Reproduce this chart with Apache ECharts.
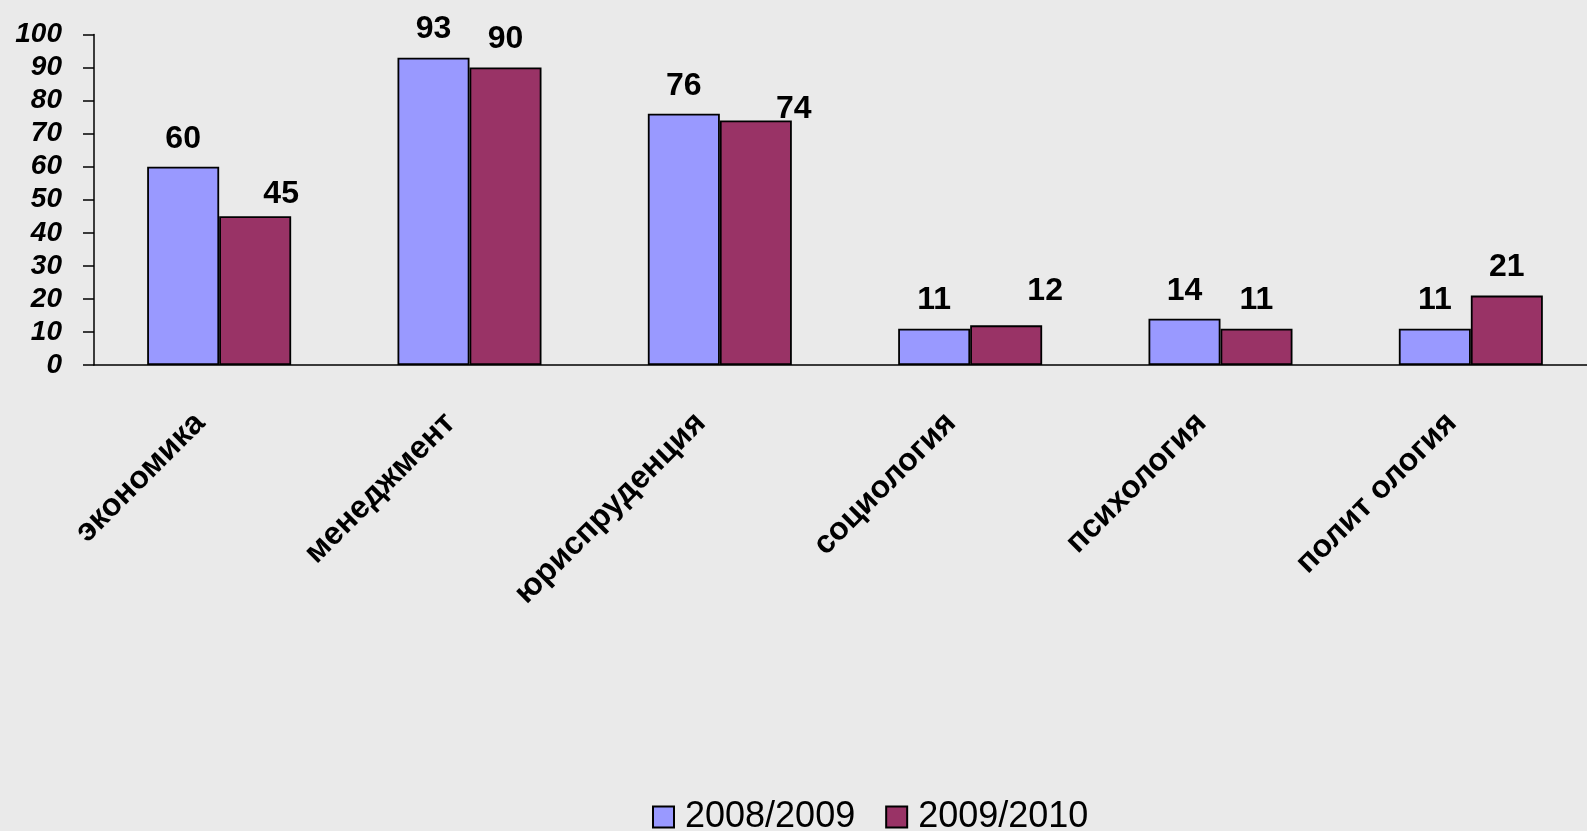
<!DOCTYPE html>
<html>
<head>
<meta charset="utf-8">
<script src="https://cdn.jsdelivr.net/npm/echarts@6/dist/echarts.min.js"></script>
<style>
html,body{margin:0;padding:0;background:#eaeaea;}
#chart{width:1587px;height:831px;}
</style>
</head>
<body>
<div id="chart"></div>
<script>
var categories = ['экономика', 'менеджмент', 'юриспруденция', 'социология', 'психология', 'полит ология'];
var seriesNames = ['2008/2009', '2009/2010'];
var values2008 = [60, 93, 76, 11, 14, 11];
var values2009 = [45, 90, 74, 12, 11, 21];
var yTicks = [0, 10, 20, 30, 40, 50, 60, 70, 80, 90, 100];

// label shifts for the second series (moved by hand in the original)
var shift2 = {0: [26, 6], 2: [38, 17], 3: [39, -6]};

var chart = echarts.init(document.getElementById('chart'), null, {renderer: 'canvas'});

var labelStyle = {
  show: true, position: 'top', distance: 12,
  fontFamily: 'Liberation Sans, Arial, sans-serif', fontWeight: 'bold', fontSize: 32, color: '#000'
};

function build(vals, shifts) {
  return vals.map(function (v, i) {
    var item = {value: v};
    if (shifts && shifts[i]) item.label = {offset: shifts[i]};
    return item;
  });
}

chart.setOption({
  backgroundColor: '#eaeaea',
  animation: false,
  grid: {left: 94, width: 1502, top: 34.5, bottom: 466, containLabel: false, outerBoundsMode: 'none'},
  legend: {
    left: 647, top: 794,
    icon: 'rect',
    itemWidth: 21, itemHeight: 21, itemGap: 30,
    textStyle: {fontFamily: 'Liberation Sans, Arial, sans-serif', fontSize: 36, color: '#000', padding: [0, 0, 0, 6]},
    data: seriesNames
  },
  xAxis: {
    type: 'category', data: categories,
    axisLine: {lineStyle: {color: '#000', width: 1.5}},
    axisTick: {show: false},
    axisLabel: {
      interval: 0, rotate: 45, margin: 34,
      padding: [0, 27, 0, 0],
      fontFamily: 'Liberation Sans, Arial, sans-serif', fontWeight: 'bold', fontSize: 32, color: '#000'
    }
  },
  yAxis: {
    type: 'value', min: 0, max: 100, interval: 10,
    axisLine: {show: true, lineStyle: {color: '#000', width: 1.5}},
    axisTick: {show: true, length: 11, lineStyle: {color: '#000', width: 1.5}},
    splitLine: {show: false},
    axisLabel: {
      margin: 32,
      fontFamily: 'Liberation Sans, Arial, sans-serif', fontWeight: 'bold', fontStyle: 'italic', fontSize: 28, color: '#000',
      formatter: function (v) { return yTicks.indexOf(v) >= 0 ? String(v) : ''; }
    }
  },
  series: [
    {
      name: seriesNames[0], type: 'bar', barWidth: 72, barGap: '0%',
      itemStyle: {color: '#9999ff', borderColor: '#000', borderWidth: 1.8},
      label: labelStyle,
      data: build(values2008)
    },
    {
      name: seriesNames[1], type: 'bar', barWidth: 72, barGap: '0%',
      itemStyle: {color: '#993366', borderColor: '#000', borderWidth: 1.8},
      label: labelStyle,
      data: build(values2009, shift2)
    }
  ]
});
</script>
</body>
</html>
